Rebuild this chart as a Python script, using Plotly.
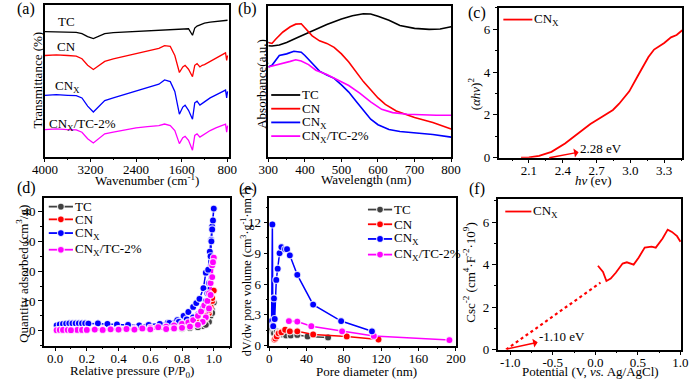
import plotly.graph_objects as go

W, H = 700, 386
SERIF = "Liberation Serif"
BLACK = "#000000"
RED = "#ff0000"
BLUE = "#0000ff"
MAG = "#ff00ff"
GRAY = "#404040"

# ---------------- (a) FTIR (arbitrary units, offset curves) ----------------
ftir_wavenumber = [4000, 3800, 3600, 3450, 3350, 3250, 3150, 3050, 2950, 2800, 2600, 2400, 2200,
                   2000, 1900, 1800, 1720, 1640, 1580, 1540, 1480, 1410, 1370, 1330, 1280, 1240,
                   1200, 1100, 1000, 900, 830, 810, 795]
ftir_tc = [383, 382, 383, 381, 377, 368, 362, 370, 377, 380, 382, 383, 385, 387, 388, 389, 390, 390,
           391, 392, 392, 372, 394, 400, 404, 407, 409, 412, 414, 416, 418, 418, 418]
ftir_cn = [310, 312, 310, 308, 300, 280, 267, 280, 292, 300, 308, 315, 323, 332, 340, 338, 310, 258,
           275, 280, 268, 245, 280, 285, 275, 280, 282, 292, 302, 312, 318, 295, 310]
ftir_cnx = [188, 190, 188, 187, 180, 155, 137, 155, 172, 180, 190, 200, 210, 222, 235, 230, 200, 130,
            152, 158, 142, 115, 165, 170, 158, 162, 168, 180, 190, 198, 204, 180, 200]
ftir_cnx_tc = [83, 85, 83, 82, 75, 55, 42, 55, 70, 75, 82, 88, 92, 95, 100, 95, 80, 40, 58, 62, 50,
               20, 65, 70, 60, 65, 70, 80, 88, 95, 100, 75, 95]
ftir_ticks = [4000, 3200, 2400, 1600, 800]

# ---------------- (b) UV-vis absorbance (a.u.) ----------------
uv_tc_wl = [300, 310, 330, 350, 380, 400, 430, 460, 500, 530, 560, 580, 600, 630, 660, 700, 740, 770, 800]
uv_tc_abs = [340, 339, 342, 350, 365, 375, 390, 405, 422, 432, 438, 437, 430, 418, 402, 393, 390, 391, 398]
uv_cn_wl = [300, 310, 320, 340, 360, 375, 390, 400, 420, 440, 460, 480, 500, 520, 540, 560, 580, 600,
            620, 650, 700, 750, 800]
uv_cn_abs = [350, 347, 360, 382, 398, 406, 407, 395, 370, 355, 347, 335, 315, 290, 260, 230, 205, 180,
             160, 140, 120, 105, 85]
uv_cnx_wl = [300, 310, 330, 350, 370, 390, 400, 420, 440, 460, 480, 500, 520, 540, 560, 580, 600, 630,
             660, 700, 750, 800]
uv_cnx_abs = [275, 280, 310, 315, 323, 320, 310, 285, 262, 250, 240, 220, 198, 170, 142, 115, 98, 83,
              77, 73, 68, 60]
uv_cnxtc_wl = [300, 320, 340, 360, 375, 390, 410, 430, 460, 490, 520, 550, 580, 610, 640, 680, 720, 760, 800]
uv_cnxtc_abs = [275, 280, 285, 292, 297, 293, 282, 265, 252, 235, 218, 195, 168, 145, 135, 130, 128, 127, 127]

# ---------------- (c) Tauc plot ----------------
tauc_hv = [2.03, 2.1, 2.19, 2.3, 2.42, 2.53, 2.645, 2.76, 2.845, 2.9, 2.99, 3.07, 3.16, 3.21, 3.3,
           3.36, 3.41, 3.46]
tauc_val = [0.0, 0.01, 0.08, 0.27, 0.66, 1.11, 1.57, 1.95, 2.23, 2.52, 3.1, 3.86, 4.7, 5.05, 5.36,
            5.62, 5.73, 5.95]
tauc_gap = 2.28

# ---------------- (d) N2 isotherms ----------------
iso_tc_p = [0.01, 0.05, 0.1, 0.15, 0.2, 0.3, 0.4, 0.5, 0.6, 0.7, 0.8, 0.85, 0.9, 0.93, 0.95, 0.97,
            0.98, 0.99, 1.0, 0.99, 0.97, 0.95, 0.9, 0.8, 0.6, 0.4, 0.2]
iso_tc_q = [0.2, 0.3, 0.3, 0.3, 0.4, 0.4, 0.4, 0.5, 0.5, 0.6, 0.7, 0.9, 1.2, 1.6, 2.2, 3.5, 5.0, 7.0,
            9.5, 6.0, 3.0, 2.0, 1.2, 0.8, 0.6, 0.5, 0.4]
iso_cn_p = [0.01, 0.05, 0.1, 0.15, 0.2, 0.3, 0.4, 0.5, 0.58, 0.7, 0.8, 0.85, 0.9, 0.93, 0.95, 0.97,
            0.98, 0.99, 1.0, 0.99, 0.97, 0.95, 0.9, 0.8, 0.7, 0.6]
iso_cn_q = [0.3, 0.4, 0.5, 0.5, 0.6, 0.7, 0.8, 1.0, 1.6, 1.3, 1.5, 1.8, 2.3, 3.0, 4.2, 6.0, 8.0, 10.0,
            13.5, 11.0, 7.0, 5.0, 3.0, 2.0, 1.6, 1.3]
iso_cnx_p = [0.01, 0.03, 0.05, 0.07, 0.09, 0.11, 0.13, 0.15, 0.17, 0.19, 0.21, 0.27, 0.33, 0.39, 0.46,
             0.53, 0.59, 0.66, 0.71, 0.77, 0.81, 0.84, 0.87, 0.89, 0.91, 0.935, 0.95, 0.965, 0.975,
             0.984, 0.99, 1.0, 0.995, 0.99, 0.985, 0.98, 0.97, 0.96, 0.95, 0.93, 0.9, 0.87, 0.83,
             0.78, 0.72]
iso_cnx_q = [1.8, 2.1, 2.3, 2.4, 2.5, 2.5, 2.5, 2.5, 2.5, 2.5, 2.4, 2.5, 2.3, 2.1, 2.0, 1.8, 2.0, 2.3,
             2.7, 3.6, 5.0, 6.3, 8.0, 9.3, 10.7, 14.3, 19.5, 20.5, 26.5, 30.5, 35.0, 41.0, 37.0,
             34.0, 30.0, 25.0, 16.0, 12.5, 10.0, 7.5, 5.5, 4.5, 3.8, 3.0, 2.6]
iso_mix_p = [0.01, 0.03, 0.05, 0.08, 0.11, 0.14, 0.17, 0.2, 0.25, 0.3, 0.35, 0.4, 0.45, 0.5, 0.55,
             0.6, 0.65, 0.7, 0.75, 0.8, 0.84, 0.87, 0.9, 0.92, 0.94, 0.96, 0.97, 0.98, 0.99, 1.0,
             0.995, 0.99, 0.98, 0.97, 0.95, 0.93, 0.9, 0.85, 0.8, 0.75, 0.7, 0.6, 0.5, 0.4, 0.3,
             0.2, 0.1]
iso_mix_q = [0.2, 0.3, 0.3, 0.3, 0.3, 0.3, 0.3, 0.3, 0.4, 0.5, 0.5, 0.6, 0.6, 0.7, 0.8, 1.0, 1.2,
             1.4, 1.8, 2.3, 2.8, 3.6, 5.0, 6.5, 8.5, 10.0, 12.5, 16.0, 22.0, 24.5, 23.0, 18.0, 12.0,
             7.5, 4.5, 3.0, 2.0, 1.4, 1.0, 0.8, 0.6, 0.5, 0.4, 0.4, 0.3, 0.3, 0.2]

# ---------------- (e) pore size distribution ----------------
psd_tc_d = [3, 4, 5, 8, 10, 14, 18, 23, 30, 41, 63]
psd_tc_v = [1.6, 1.3, 1.2, 1.4, 1.3, 1.1, 1.0, 1.0, 1.05, 0.9, 0.8]
psd_cn_d = [5.5, 6.5, 8, 10, 13, 17, 22, 30, 47, 83, 117]
psd_cn_v = [0.6, 0.7, 0.9, 1.2, 1.3, 1.55, 1.4, 1.4, 1.1, 0.9, 0.6]
psd_cnx_d = [2.5, 3.3, 3.8, 4.2, 5.0, 5.8, 7.5, 9.0, 11, 13, 17, 19, 22, 30, 47, 77, 110]
psd_cnx_v = [2.4, 11.8, 2.0, 1.9, 4.6, 2.6, 6.4, 7.5, 9.0, 9.6, 9.4, 9.4, 8.8, 6.9, 4.0, 2.4, 1.4]
psd_mix_d = [21, 30, 45, 78, 112, 193]
psd_mix_v = [2.4, 2.35, 1.9, 1.4, 0.95, 0.55]

# ---------------- (f) Mott-Schottky ----------------
ms_pot = [0.03, 0.09, 0.13, 0.18, 0.24, 0.32, 0.37, 0.45, 0.51, 0.58, 0.66, 0.71, 0.79, 0.85, 0.9,
          0.96, 1.0]
ms_val = [3.95, 3.66, 3.23, 3.34, 3.62, 4.05, 4.11, 4.0, 4.34, 4.8, 4.85, 4.8, 5.23, 5.65, 5.54,
          5.34, 5.08]
ms_fit_pot = [-1.05, 0.06]
ms_fit_val = [0.0, 3.15]
ms_ticks = [-1.0, -0.5, 0.0, 0.5, 1.0]
ms_ticktext = ["-1.0", "-0.5", "0.0", "0.5", "1.0"]

# ---------------- figure ----------------
fig = go.Figure()

# pixel boxes of the six panels: (left, right, top, bottom)
boxes = {1: (33, 223, 5, 160), 2: (264, 453, 6, 160), 3: (502, 692, 8, 161),
         4: (32, 224, 202, 353), 5: (265, 458, 202, 353), 6: (501, 691, 203, 357)}


def nm(i, k):
    return k if i == 1 else f"{k}{i}"


def add(i, x, y, color, width=1.6, dash=None, markers=False):
    kw = dict(mode="lines", line=dict(color=color, width=width, dash=dash))
    if markers:
        kw = dict(mode="lines+markers", line=dict(color=color, width=1.5),
                  marker=dict(symbol="circle", size=7, color=color,
                              line=dict(color="rgba(255,255,255,0.8)", width=1.2)))
    fig.add_trace(go.Scatter(x=x, y=y, xaxis=nm(i, "x"), yaxis=nm(i, "y"),
                             showlegend=False, hoverinfo="skip", **kw))


add(1, ftir_wavenumber, ftir_tc, BLACK, 1.3)
add(1, ftir_wavenumber, ftir_cn, RED, 1.3)
add(1, ftir_wavenumber, ftir_cnx, BLUE, 1.3)
add(1, ftir_wavenumber, ftir_cnx_tc, MAG, 1.3)

add(2, uv_tc_wl, uv_tc_abs, BLACK)
add(2, uv_cn_wl, uv_cn_abs, RED)
add(2, uv_cnx_wl, uv_cnx_abs, BLUE)
add(2, uv_cnxtc_wl, uv_cnxtc_abs, MAG)

add(3, tauc_hv, tauc_val, RED, 1.8)

add(4, iso_tc_p, iso_tc_q, GRAY, markers=True)
add(4, iso_cn_p, iso_cn_q, RED, markers=True)
add(4, iso_cnx_p, iso_cnx_q, BLUE, markers=True)
add(4, iso_mix_p, iso_mix_q, MAG, markers=True)

add(5, psd_tc_d, psd_tc_v, GRAY, markers=True)
add(5, psd_cn_d, psd_cn_v, RED, markers=True)
add(5, psd_mix_d, psd_mix_v, MAG, markers=True)
add(5, psd_cnx_d, psd_cnx_v, BLUE, markers=True)

add(6, ms_fit_pot, ms_fit_val, RED, 2.2, dash="dot")
add(6, ms_pot, ms_val, RED, 1.8)

tickfont = dict(family=SERIF, size=13, color="black")
common = dict(showline=True, linecolor="black", linewidth=1.5, mirror=True, showgrid=False,
              zeroline=False, ticks="outside", ticklen=4, tickwidth=1.2, tickcolor="black",
              tickfont=tickfont)

axes_x = {
    1: dict(range=[4000, 775], tickvals=ftir_ticks, minor=dict(ticks="outside", ticklen=2, dtick=400, tick0=800)),
    2: dict(range=[300, 800], dtick=100, tick0=300, minor=dict(ticks="outside", ticklen=2, dtick=50)),
    3: dict(range=[1.83, 3.46], dtick=0.3, tick0=2.1, tickformat=".1f",
            minor=dict(ticks="outside", ticklen=2, dtick=0.15, tick0=2.1)),
    4: dict(range=[-0.07, 1.1], dtick=0.2, tick0=0, tickformat=".1f",
            minor=dict(ticks="outside", ticklen=2, dtick=0.1, tick0=0)),
    5: dict(range=[0, 200], dtick=40, tick0=0, minor=dict(ticks="outside", ticklen=2, dtick=20)),
    6: dict(range=[-1.15, 1.01], tickvals=ms_ticks, ticktext=ms_ticktext,
            minor=dict(ticks="outside", ticklen=2, dtick=0.25, tick0=0)),
}
axes_y = {
    1: dict(range=[0, 465], showticklabels=False, ticks=""),
    2: dict(range=[0, 462], showticklabels=False, ticks=""),
    3: dict(range=[0, 7], dtick=2, tick0=0, minor=dict(ticks="outside", ticklen=2, dtick=1)),
    4: dict(range=[-5, 44.6], dtick=10, tick0=0, minor=dict(ticks="outside", ticklen=2, dtick=5, tick0=0)),
    5: dict(range=[0, 14.4], dtick=3, tick0=0, minor=dict(ticks="outside", ticklen=2, dtick=1.5)),
    6: dict(range=[0, 7.1], dtick=2, tick0=0, minor=dict(ticks="outside", ticklen=2, dtick=1)),
}

layout = dict(width=W, height=H, autosize=False, margin=dict(l=0, r=0, t=0, b=0),
              paper_bgcolor="white", plot_bgcolor="white", showlegend=False,
              font=dict(family=SERIF, size=13, color="black"))
for i, (l, r, t, b) in boxes.items():
    xa = dict(common)
    xa.update(domain=[l / W, r / W], anchor=nm(i, "y"), ticklabelstandoff=-4)
    xa.update(axes_x[i])
    ya = dict(common)
    ya.update(domain=[1 - b / H, 1 - t / H], anchor=nm(i, "x"))
    ya.update(axes_y[i])
    layout["xaxis" if i == 1 else f"xaxis{i}"] = xa
    layout["yaxis" if i == 1 else f"yaxis{i}"] = ya
fig.update_layout(**layout)


def text(x, y, s, size=13, anchor="left", angle=0, color="black"):
    fig.add_annotation(x=x / W, y=1 - y / H, xref="paper", yref="paper", text=s, showarrow=False,
                       xanchor=anchor, yanchor="middle", textangle=angle,
                       font=dict(family=SERIF, size=size, color=color))


def leg_line(x0, x1, y, color, marker=False):
    fig.add_shape(type="line", xref="paper", yref="paper", x0=x0 / W, x1=x1 / W,
                  y0=1 - y / H, y1=1 - y / H, line=dict(color=color, width=1.8))
    if marker:
        xc = (x0 + x1) / 2
        fig.add_shape(type="circle", xref="paper", yref="paper", x0=(xc - 3.5) / W, x1=(xc + 3.5) / W,
                      y0=1 - (y + 3.5) / H, y1=1 - (y - 3.5) / H, fillcolor=color,
                      line=dict(color="rgba(255,255,255,0.8)", width=1.2))


CNX = "CN<sub>X</sub>"
CNXTC = "CN<sub>X</sub>/TC-2%"

# panel letters
for lab, x, y in [("(a)", 2, 9), ("(b)", 231, 9), ("(c)", 468, 13), ("(d)", 2, 192), ("(e)", 232, 193), ("(f)", 469, 193)]:
    text(x, y, lab, size=16)

# (a) curve labels
text(44, 22, "TC")
text(43, 47, "CN")
text(41, 88, CNX)
text(35, 127, CNXTC)

# (b) legend
for (yy, c, s) in [(97, BLACK, "TC"), (111, RED, "CN"), (125, BLUE, CNX), (139, MAG, CNXTC)]:
    leg_line(267, 297, yy, c)
    text(297, yy, s)
# (c) legend
leg_line(507, 537, 20, RED)
text(537, 20, CNX)
# (d) legend
for (yy, c, s) in [(211, GRAY, "TC"), (224, RED, "CN"), (238, BLUE, CNX), (255, MAG, CNXTC)]:
    leg_line(37, 62, yy, c, marker=True)
    text(62, yy, s)
# (e) legend
for (yy, c, s) in [(214, GRAY, "TC"), (229, RED, "CN"), (244, BLUE, CNX), (260, MAG, CNXTC)]:
    leg_line(367, 392, yy, c, marker=True)
    text(392, yy, s)
# (f) legend
leg_line(509, 536, 216, RED)
text(536, 216, CNX)

# axis titles
text(139, 184, "Wavenumber (cm<sup>-1</sup>)", anchor="center")
text(25, 82, "Transmittance (%)", anchor="center", angle=-90)
text(365, 183, "Wavelength (nm)", anchor="center")
text(257, 86, "Absorbance(a.u.)", anchor="center", angle=-90)
text(600, 184, "<i>hv</i> (ev)", anchor="center")
text(477, 96, "(<i>αhv</i>)<sup>2</sup>", anchor="center", angle=-90)
text(123, 379, "Relative pressure (P/P<sub>0</sub>)", anchor="center")
text(10, 280, "Quantity adsorbed (cm<sup>3</sup>/g)", anchor="center", angle=-90)
text(366, 379, "Pore diameter (nm)", anchor="center")
text(241, 278, "dV/dw pore volume (cm<sup>3</sup>·g<sup>-1</sup>·nm<sup>-1</sup>)", anchor="center", angle=-90, size=12)
text(597, 379, "Potential (V, <i>vs.</i> Ag/AgCl)", anchor="center")
text(472, 278, "Csc<sup>-2</sup> (cm<sup>4</sup>·F<sup>-2</sup>·10<sup>9</sup>)", anchor="center", angle=-90)

# arrows
fig.add_annotation(x=tauc_gap, y=0, xref="x3", yref="y3", axref="x3", ayref="y3", ax=2.74, ay=0.45,
                   text=f"{tauc_gap:.2f} eV", showarrow=True, arrowside="start", arrowhead=2,
                   arrowsize=1, arrowwidth=1.5, arrowcolor=RED,
                   font=dict(family=SERIF, size=13, color="black"))
fig.add_annotation(x=-1.04, y=0.03, xref="x6", yref="y6", axref="x6", ayref="y6", ax=-0.39, ay=0.6,
                   text="-1.10 eV", showarrow=True, arrowside="start", arrowhead=2,
                   arrowsize=1, arrowwidth=1.5, arrowcolor=RED,
                   font=dict(family=SERIF, size=13, color="black"))

fig.write_html("out.html", config={"displayModeBar": False},
               post_script="document.body.style.margin='0';document.body.style.overflow='hidden';")
